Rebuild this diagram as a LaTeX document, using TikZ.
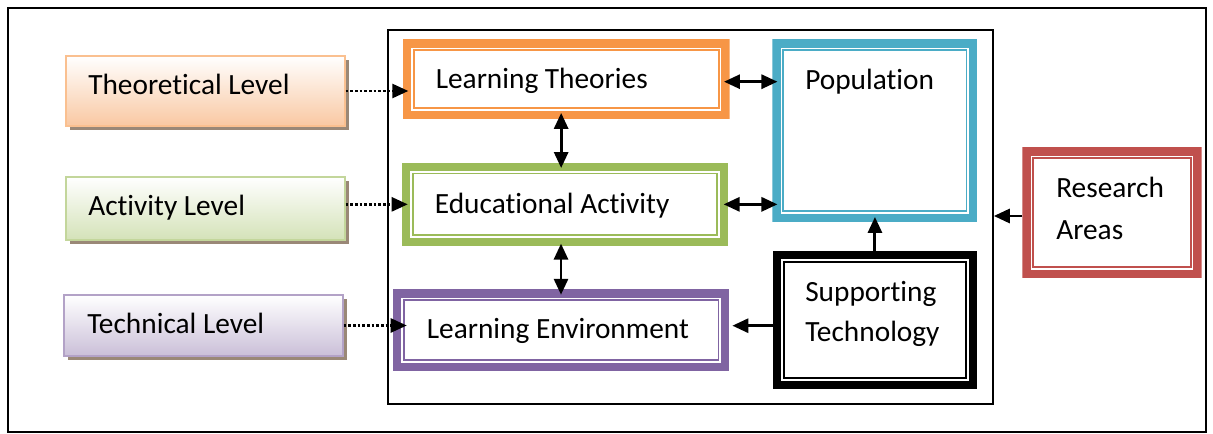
\documentclass[tikz,border=0pt]{standalone}
\usepackage{fontspec}
\setmainfont{Carlito}[Ligatures=NoCommon]
\usetikzlibrary{arrows.meta,calc,shadows}
\definecolor{cOr}{HTML}{F79646}
\definecolor{cGr}{HTML}{9BBB59}
\definecolor{cBl}{HTML}{4BACC6}
\definecolor{cPu}{HTML}{8064A2}
\definecolor{cRe}{HTML}{C0504D}
\definecolor{lOrB}{HTML}{FAC090}
\definecolor{lOrF}{HTML}{F9C8A2}
\definecolor{lGrB}{HTML}{C3D69B}
\definecolor{lGrF}{HTML}{D4E2B8}
\definecolor{lPuB}{HTML}{B3A2C7}
\definecolor{lPuF}{HTML}{CABFD8}
\newcommand\mkbox[6]{\node[#6, minimum width={(#4-#2)*0.75pt}, minimum height={(#5-#3)*0.75pt}] (#1) at ({(#2+#4)/2},{(#3+#5)/2}) {};}
\begin{document}
\begin{tikzpicture}[x=0.75pt,y=-0.75pt,
  frame/.style={draw=black, line width=1.2pt, inner sep=0, rectangle},
  dbox/.style={rectangle, inner sep=0, path picture={
     \draw[#1, line width=6.2pt] ([shift={(3.1pt,3.1pt)}]path picture bounding box.south west) rectangle ([shift={(-3.1pt,-3.1pt)}]path picture bounding box.north east);
     \draw[#1, line width=1.3pt] ([shift={(8.2pt,8.2pt)}]path picture bounding box.south west) rectangle ([shift={(-8.2pt,-8.2pt)}]path picture bounding box.north east);}},
  lvl/.style 2 args={rectangle, inner sep=0, draw=#1, line width=1.1pt, top color=white, bottom color=#2,
     drop shadow={shadow xshift=3pt, shadow yshift=-3pt, fill=black!55!brown, opacity=0.6}},
  txt/.style={anchor=base west, inner sep=0, font=\fontsize{22}{26}\selectfont},
  tip/.tip={Triangle[length=12pt,width=10.5pt]},
  dotarr/.style={line width=1.9pt, dash pattern=on 1.9pt off 1.6pt, -tip},
  sarr/.style={line width=2.2pt, -tip},
  darr/.style={line width=2.2pt, tip-tip}
]
\useasboundingbox (0,0) rectangle (1213,434);
% frames
\mkbox{outer}{8}{8}{1206}{432}{frame}
\mkbox{inner}{388}{30}{993}{404}{frame}
% level boxes
\mkbox{th}{66}{56}{345}{126}{lvl={lOrB}{lOrF}}
\mkbox{ac}{66}{177}{345}{240}{lvl={lGrB}{lGrF}}
\mkbox{te}{64}{295}{343}{356}{lvl={lPuB}{lPuF}}
% inner boxes
\mkbox{lt}{403}{39.3}{729.7}{119.3}{dbox=cOr}
\mkbox{ea}{402}{162.7}{728}{246}{dbox=cGr}
\mkbox{le}{393}{289.3}{729.4}{371}{dbox=cPu}
\mkbox{po}{772.4}{39.3}{977.3}{222}{dbox=cBl}
\mkbox{st}{772.8}{251}{977.1}{389}{dbox=black}
\mkbox{ra}{1022.3}{147.3}{1201.7}{278.3}{dbox=cRe}
% texts
\node[txt] (th-t) at (88,95) {Theoretical Level};
\node[txt] (ac-t) at (88,215.5) {Activity Level};
\node[txt] (te-t) at (87,334) {Technical Level};
\node[txt] (lt-t) at (435.5,88.3) {Learning Theories};
\node[txt] (po-t) at (805,89.3) {Population};
\node[txt] (ea-t) at (434.6,213.3) {Educational Activity};
\node[txt] (le-t) at (426.6,338.3) {Learning Environment};
\node[txt] (st-t1) at (805,301.7) {Supporting};
\node[txt] (st-t2) at (805,341.7) {Technology};
\node[txt] (ra-t1) at (1056,197.7) {Research};
\node[txt] (ra-t2) at (1056,239.3) {Areas};
% dotted arrows
\draw[dotarr, shorten >=-4.2pt] (th.east) -- (th.east -| lt.west);
\draw[dotarr, shorten >=-4.5pt] (ac.east |- ea.west) -- (ea.west);
\draw[dotarr, shorten >=-10.5pt] (te.east) -- (te.east -| le.west);
% solid arrows
\draw[darr, shorten <=-4.5pt, shorten >=-4pt] ($(lt.east)+(0,2.4)$) -- ($(lt.east -| po.west)+(0,2.4)$);
\draw[darr, shorten <=-3.5pt, shorten >=-4pt] (ea.east) -- (ea.east -| po.west);
\draw[darr, shorten <=-5pt, shorten >=-4.2pt] ($(lt.south)+(-5.2,0)$) -- ($(lt.south |- ea.north)+(-5.2,0)$);
\draw[darr, shorten <=-2pt, shorten >=-4.3pt] ($(ea.south)+(-4,0)$) -- ($(ea.south |- le.north)+(-4,0)$);
\draw[sarr, shorten >=-4pt] (st.north) -- (st.north |- po.south);
\draw[sarr, shorten >=2pt] ($(st.west)+(0,5.7)$) -- ($(st.west -| le.east)+(0,5.7)$);
\draw[sarr] ($(ra.west)+(0,3.2)$) -- ($(ra.west -| inner.east)+(0,3.2)$);
\end{tikzpicture}
\end{document}
